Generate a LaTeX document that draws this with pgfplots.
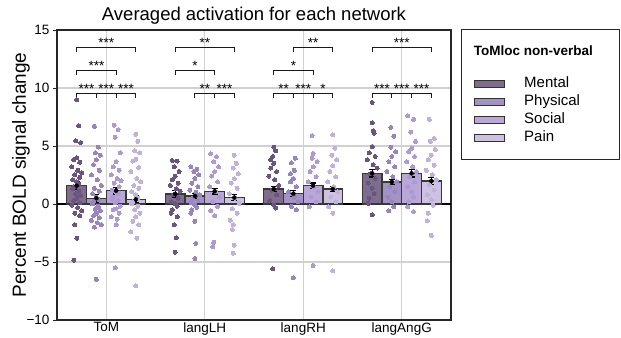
\documentclass[border=0pt]{standalone}
\usepackage{pgfplots}
\pgfplotsset{compat=1.18}
\usepackage{fontspec}
\setmainfont{Liberation Sans}
\definecolor{cM}{HTML}{7F6D8D}
\definecolor{cP}{HTML}{A393C5}
\definecolor{cS}{HTML}{B9A8D7}
\definecolor{cN}{HTML}{CEC2E3}
\definecolor{dM}{HTML}{6A5580}
\definecolor{dP}{HTML}{9784C0}
\definecolor{dS}{HTML}{AD99D3}
\definecolor{dN}{HTML}{C1B1DD}
\begin{document}
\begin{tikzpicture}
\begin{axis}[
  width=394pt, height=290pt, scale only axis,
  xmin=-0.5, xmax=3.5, ymin=-10, ymax=15,
  xtick={0,1,2,3}, xticklabels={ToM,langLH,langRH,langAngG},
  ytick={-10,-5,0,5,10,15}, yticklabels={−10,−5,0,5,10,15},
  ytick pos=left,
  grid=major, major grid style={draw=black!18, line width=1.2pt},
  axis line style={draw=black!85, line width=1.1pt},
  tick align=outside,
  ytick style={draw=black!85, line width=0.9pt},
  major tick length=4pt,
  xtick style={draw=none},
  tick label style={font=\fontsize{13.5}{14}\selectfont},
  xticklabel style={yshift=5pt},
  title={Averaged activation for each network},
  title style={font=\fontsize{18.5}{20}\selectfont, at={(rel axis cs:0.5,1)}, anchor=base, yshift=3pt},
  ylabel={Percent BOLD signal change},
  ylabel style={font=\fontsize{19}{20}\selectfont, at={(rel axis cs:0,0.5)}, anchor=center, yshift=36pt},
  clip=false,
  legend cell align=left,
  legend image code/.code={\draw[#1, draw=black!80, line width=1pt] (0pt,-3.5pt) rectangle (30pt,3.5pt);},
  legend style={at={(rel axis cs:1.0584,0.841)}, anchor=north west, draw=none, fill=none,
    inner sep=0pt, row sep=3pt, font=\fontsize{15}{15}\selectfont,
    nodes={inner sep=0pt, text height=11pt, text depth=4pt},
    /tikz/every odd column/.append style={column sep=19pt}},
]
% zero line
\addplot[black, line width=1.1pt, forget plot] coordinates {(-0.5,0) (3.5,0)};
% bars
\addplot[ybar, bar width=0.2, bar shift=0pt, fill=cM, draw=black!78, line width=1.2pt, forget plot] coordinates {(-0.3,1.58) (0.7,0.86) (1.7,1.29) (2.7,2.64)};
\addplot[ybar, bar width=0.2, bar shift=0pt, fill=cP, draw=black!78, line width=1.2pt, forget plot] coordinates {(-0.1,0.49) (0.9,0.69) (1.9,0.89) (2.9,1.90)};
\addplot[ybar, bar width=0.2, bar shift=0pt, fill=cS, draw=black!78, line width=1.2pt, forget plot] coordinates {(0.1,1.15) (1.1,1.09) (2.1,1.58) (3.1,2.64)};
\addplot[ybar, bar width=0.2, bar shift=0pt, fill=cN, draw=black!78, line width=1.2pt, forget plot] coordinates {(0.3,0.40) (1.3,0.55) (2.3,1.29) (3.3,1.98)};
% individual points: Mental
\addplot[only marks, mark=*, mark size=2pt, color=dM, mark options={draw=dM, fill=dM, line width=0pt}, forget plot] coordinates {
(-0.30,8.97) (-0.28,6.75) (-0.31,5.45) (-0.26,5.3) (-0.30,4.0) (-0.33,3.8) (-0.27,3.6) (-0.35,3.2) (-0.29,2.9) (-0.25,2.7) (-0.32,2.5) (-0.27,2.3) (-0.34,2.1) (-0.30,1.9) (-0.28,1.7) (-0.33,1.5) (-0.34,1.3) (-0.28,1.1) (-0.31,0.9) (-0.26,0.7) (-0.30,0.5) (-0.33,0.3) (-0.27,0.1) (-0.35,-0.1) (-0.29,-0.3) (-0.25,-0.6) (-0.32,-0.8) (-0.27,-1.0) (-0.32,-1.8) (-0.30,-2.95) (-0.33,-4.85)
(0.67,3.75) (0.72,3.7) (0.69,3.2) (0.74,2.8) (0.70,2.4) (0.67,2.1) (0.73,1.8) (0.65,1.6) (0.71,1.3) (0.75,1.1) (0.68,0.8) (0.73,0.5) (0.66,0.2) (0.70,0.0) (0.72,-0.2) (0.67,-0.5) (0.66,-0.8) (0.72,-1.1) (0.69,-1.8) (0.71,-2.9) (0.70,-4.15)
(1.70,4.9) (1.72,4.6) (1.69,4.1) (1.67,3.8) (1.70,3.5) (1.67,3.1) (1.73,2.8) (1.65,2.4) (1.71,2.1) (1.75,1.6) (1.68,1.2) (1.73,0.8) (1.66,0.3) (1.70,-0.1) (1.72,-0.35) (1.69,-5.6)
(2.70,8.75) (2.70,7.0) (2.71,6.3) (2.72,6.1) (2.70,4.95) (2.67,4.4) (2.73,4.1) (2.65,3.8) (2.71,3.4) (2.75,3.1) (2.68,2.6) (2.73,2.2) (2.66,1.8) (2.70,1.35) (2.72,0.9) (2.67,0.5) (2.66,0.05) (2.70,-0.95)};
% Physical
\addplot[only marks, mark=*, mark size=2pt, color=dP, mark options={draw=dP, fill=dP, line width=0pt}, forget plot] coordinates {
(-0.12,6.7) (-0.08,4.9) (-0.11,4.4) (-0.06,4.2) (-0.10,3.8) (-0.13,3.4) (-0.07,2.9) (-0.15,2.5) (-0.09,2.1) (-0.05,1.6) (-0.12,1.35) (-0.07,1.1) (-0.14,0.9) (-0.10,0.6) (-0.08,0.4) (-0.13,0.2) (-0.14,0.0) (-0.08,-0.2) (-0.11,-0.4) (-0.06,-0.6) (-0.10,-0.8) (-0.13,-1.0) (-0.07,-1.2) (-0.15,-1.4) (-0.09,-1.6) (-0.05,-1.8) (-0.12,-2.0) (-0.10,-6.5)
(0.86,3.2) (0.92,3.0) (0.89,2.8) (0.94,2.5) (0.90,2.2) (0.87,1.8) (0.93,1.5) (0.85,1.2) (0.91,1.0) (0.95,0.8) (0.88,0.5) (0.93,0.3) (0.86,0.1) (0.90,-0.1) (0.92,-0.3) (0.87,-0.5) (0.86,-0.8) (0.90,-1.5) (0.91,-3.4) (0.90,-4.7)
(1.92,3.95) (1.88,3.55) (1.91,2.9) (1.87,2.6) (1.90,2.2) (1.87,1.9) (1.93,1.5) (1.85,1.05) (1.91,0.6) (1.95,0.2) (1.88,-0.2) (1.93,-0.5) (1.90,-6.35)
(2.89,6.6) (2.92,5.85) (2.89,4.9) (2.94,4.5) (2.90,4.1) (2.87,3.65) (2.93,3.2) (2.85,2.8) (2.91,2.35) (2.95,1.9) (2.88,1.5) (2.93,1.05) (2.86,0.6) (2.90,0.2) (2.92,-0.25) (2.87,-0.6)};
% Social
\addplot[only marks, mark=*, mark size=2pt, color=dS, mark options={draw=dS, fill=dS, line width=0pt}, forget plot] coordinates {
(0.08,6.8) (0.12,6.4) (0.09,5.75) (0.14,4.4) (0.10,3.65) (0.07,3.2) (0.13,2.9) (0.05,2.5) (0.11,2.2) (0.15,2.0) (0.08,1.8) (0.13,1.5) (0.06,1.2) (0.10,1.0) (0.12,0.9) (0.07,0.6) (0.06,0.4) (0.12,0.3) (0.09,0.1) (0.14,-0.2) (0.10,-0.4) (0.07,-0.5) (0.13,-0.8) (0.05,-1.1) (0.11,-1.3) (0.10,-1.8) (0.09,-5.5)
(1.06,4.35) (1.12,4.1) (1.09,3.65) (1.14,3.2) (1.10,2.8) (1.07,2.4) (1.13,1.9) (1.05,1.5) (1.11,1.05) (1.15,0.6) (1.08,0.2) (1.13,-0.2) (1.06,-0.6) (1.10,-1.0) (1.09,-3.3) (1.08,-3.7)
(2.09,5.9) (2.10,4.35) (2.09,3.95) (2.14,3.65) (2.10,3.2) (2.07,2.8) (2.13,2.35) (2.05,1.9) (2.11,1.5) (2.15,1.05) (2.08,0.6) (2.13,0.2) (2.06,-0.25) (2.10,-5.3)
(3.06,7.6) (3.12,7.3) (3.09,6.2) (3.14,5.4) (3.10,4.8) (3.07,4.5) (3.13,4.1) (3.05,3.65) (3.11,3.2) (3.15,2.8) (3.08,2.35) (3.13,1.9) (3.06,1.5) (3.10,1.05) (3.12,0.6) (3.07,0.2) (3.06,-0.25) (3.12,-0.65)};
% Pain
\addplot[only marks, mark=*, mark size=2pt, color=dN, mark options={draw=dN, fill=dN, line width=0pt}, forget plot] coordinates {
(0.30,6.0) (0.32,5.4) (0.29,4.6) (0.34,4.4) (0.30,3.85) (0.27,3.7) (0.33,3.15) (0.25,2.8) (0.31,2.2) (0.35,1.9) (0.28,1.6) (0.33,1.35) (0.26,1.05) (0.30,0.8) (0.32,0.5) (0.27,0.2) (0.26,0.0) (0.32,-0.2) (0.29,-0.5) (0.34,-0.8) (0.30,-1.1) (0.27,-1.5) (0.33,-1.8) (0.25,-2.4) (0.31,-2.95) (0.30,-7.05)
(1.30,4.2) (1.32,3.5) (1.29,3.1) (1.34,2.6) (1.30,2.2) (1.27,1.8) (1.33,1.35) (1.25,0.9) (1.31,0.5) (1.35,0.05) (1.28,-0.4) (1.33,-0.8) (1.26,-1.4) (1.29,-1.8) (1.28,-2.2) (1.30,-3.55) (1.29,-4.25)
(2.30,5.95) (2.32,4.8) (2.29,4.2) (2.34,3.8) (2.30,3.3) (2.27,2.8) (2.33,2.35) (2.25,1.9) (2.31,1.5) (2.35,1.05) (2.28,0.6) (2.33,0.2) (2.26,-0.25) (2.30,-0.8) (2.30,-5.75)
(3.28,7.3) (3.33,5.65) (3.29,5.4) (3.34,4.7) (3.30,4.2) (3.27,3.8) (3.33,3.35) (3.25,2.9) (3.31,2.5) (3.35,2.1) (3.28,1.65) (3.33,1.2) (3.26,0.8) (3.30,0.35) (3.32,-0.1) (3.27,-0.8) (3.26,-1.45) (3.30,-2.7)};
% error bars
\addplot[only marks, mark=none, forget plot, error bars/.cd, y dir=both, y explicit,
  error bar style={draw=black, line width=1.4pt},
  error mark options={draw=black, rotate=90, mark size=3pt, line width=1.2pt}] coordinates {
(-0.3,1.58) +- (0,0.36) (-0.1,0.49) +- (0,0.33) (0.1,1.15) +- (0,0.29) (0.3,0.40) +- (0,0.30)
(0.7,0.86) +- (0,0.29) (0.9,0.69) +- (0,0.24) (1.1,1.09) +- (0,0.23) (1.3,0.55) +- (0,0.24)
(1.7,1.29) +- (0,0.23) (1.9,0.89) +- (0,0.25) (2.1,1.58) +- (0,0.23) (2.3,1.29) +- (0,0.24)
(2.7,2.64) +- (0,0.32) (2.9,1.90) +- (0,0.24) (3.1,2.64) +- (0,0.32) (3.3,1.98) +- (0,0.27)};
% significance brackets
\addplot[black!90, line width=1.1pt, forget plot] coordinates {(-0.3,13.13) (-0.3,13.5) (0.3,13.5) (0.3,13.13)};
\addplot[black!90, line width=1.1pt, forget plot] coordinates {(-0.3,11.13) (-0.3,11.5) (0.1,11.5) (0.1,11.13)};
\addplot[black!90, line width=1.1pt, forget plot] coordinates {(-0.3,9.13) (-0.3,9.5) (0.3,9.5) (0.3,9.13)};
\addplot[black!90, line width=1.1pt, forget plot] coordinates {(-0.1,9.5) (-0.1,9.13)};
\addplot[black!90, line width=1.1pt, forget plot] coordinates {(0.1,9.5) (0.1,9.13)};
\addplot[black!90, line width=1.1pt, forget plot] coordinates {(0.7,13.13) (0.7,13.5) (1.3,13.5) (1.3,13.13)};
\addplot[black!90, line width=1.1pt, forget plot] coordinates {(0.7,11.13) (0.7,11.5) (1.1,11.5) (1.1,11.13)};
\addplot[black!90, line width=1.1pt, forget plot] coordinates {(0.9,9.13) (0.9,9.5) (1.3,9.5) (1.3,9.13)};
\addplot[black!90, line width=1.1pt, forget plot] coordinates {(1.1,9.5) (1.1,9.13)};
\addplot[black!90, line width=1.1pt, forget plot] coordinates {(1.9,13.13) (1.9,13.5) (2.3,13.5) (2.3,13.13)};
\addplot[black!90, line width=1.1pt, forget plot] coordinates {(1.7,11.13) (1.7,11.5) (2.1,11.5) (2.1,11.13)};
\addplot[black!90, line width=1.1pt, forget plot] coordinates {(1.7,9.13) (1.7,9.5) (2.3,9.5) (2.3,9.13)};
\addplot[black!90, line width=1.1pt, forget plot] coordinates {(1.9,9.5) (1.9,9.13)};
\addplot[black!90, line width=1.1pt, forget plot] coordinates {(2.1,9.5) (2.1,9.13)};
\addplot[black!90, line width=1.1pt, forget plot] coordinates {(2.7,13.13) (2.7,13.5) (3.3,13.5) (3.3,13.13)};
\addplot[black!90, line width=1.1pt, forget plot] coordinates {(2.7,9.13) (2.7,9.5) (3.3,9.5) (3.3,9.13)};
\addplot[black!90, line width=1.1pt, forget plot] coordinates {(2.9,9.5) (2.9,9.13)};
\addplot[black!90, line width=1.1pt, forget plot] coordinates {(3.1,9.5) (3.1,9.13)};
\begin{scope}[every node/.style={anchor=base, font=\fontsize{13.5}{14}\selectfont, inner sep=0pt}]
\node at (axis cs:0,13.5) {***};
\node at (axis cs:-0.1,11.5) {***};
\node at (axis cs:-0.2,9.5) {***};
\node at (axis cs:0,9.5) {***};
\node at (axis cs:0.2,9.5) {***};
\node at (axis cs:1,13.5) {**};
\node at (axis cs:0.9,11.5) {*};
\node at (axis cs:1.0,9.5) {**};
\node at (axis cs:1.2,9.5) {***};
\node at (axis cs:2.1,13.5) {**};
\node at (axis cs:1.9,11.5) {*};
\node at (axis cs:1.8,9.5) {**};
\node at (axis cs:2.0,9.5) {***};
\node at (axis cs:2.2,9.5) {*};
\node at (axis cs:3,13.5) {***};
\node at (axis cs:2.8,9.5) {***};
\node at (axis cs:3.0,9.5) {***};
\node at (axis cs:3.2,9.5) {***};
\end{scope}
% legend
\addlegendimage{fill=cM}\addlegendentry{Mental}
\addlegendimage{fill=cP}\addlegendentry{Physical}
\addlegendimage{fill=cS}\addlegendentry{Social}
\addlegendimage{fill=cN}\addlegendentry{Pain}
\draw[black!85, line width=1pt] (rel axis cs:1.0254,1.0) rectangle (rel axis cs:1.4289,0.552);
\node[anchor=base west, inner sep=0pt, font=\bfseries\fontsize{13.5}{14}\selectfont] at (rel axis cs:1.0576,0.9103) {ToMloc non-verbal};
\coordinate (bbA) at (rel axis cs:-0.1447,-0.0621);
\coordinate (bbB) at (rel axis cs:1.4315,1.1034);
\end{axis}
\pgfresetboundingbox
\path[use as bounding box] (bbA) rectangle (bbB);
\end{tikzpicture}
\end{document}
